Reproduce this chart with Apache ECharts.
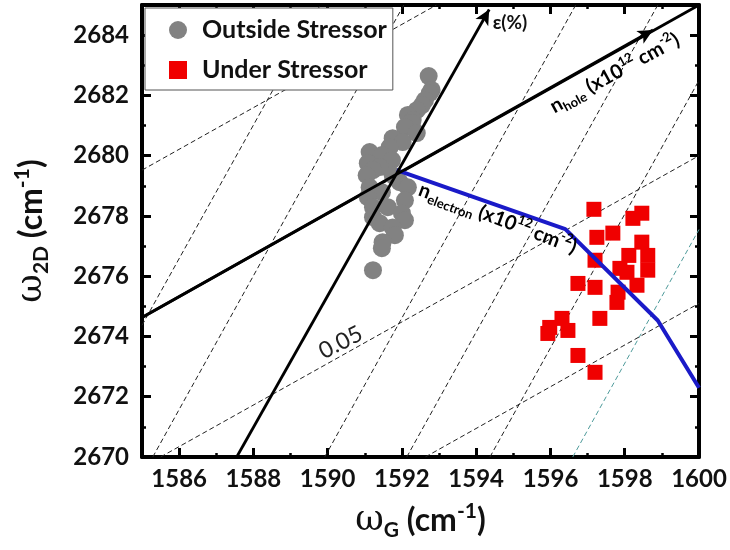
<!DOCTYPE html>
<html lang="en">
<head>
<meta charset="UTF-8">
<title>omega_2D vs omega_G</title>
<script src="https://cdn.jsdelivr.net/npm/echarts@6.0.0/dist/echarts.min.js"></script>
<style>
  body { margin: 0; background: #fff; }
  #main { width: 730px; height: 550px; }
</style>
</head>
<body>
<div id="main"></div>
<script>
// axis ranges and tick labels
var xRange = [1585, 1600];
var yRange = [2670, 2685];
var xTicks = [1586, 1588, 1590, 1592, 1594, 1596, 1598, 1600];
var yTicks = [2670, 2672, 2674, 2676, 2678, 2680, 2682, 2684];

// measured points (cm-1)
var outsideStressor = [
    [1592.72, 2682.64], [1592.80, 2682.18], [1592.75, 2682.08], [1592.62, 2681.84],
    [1592.54, 2681.68], [1592.40, 2681.51], [1592.16, 2681.35], [1592.29, 2681.18],
    [1592.27, 2681.08], [1592.08, 2680.95], [1592.40, 2680.75], [1591.75, 2680.58],
    [1592.02, 2680.45], [1591.67, 2680.28], [1591.13, 2680.12], [1591.46, 2680.02],
    [1591.73, 2679.85], [1591.08, 2679.75], [1591.40, 2679.62], [1591.22, 2679.52],
    [1591.05, 2679.35], [1591.75, 2679.35], [1591.94, 2679.12], [1592.16, 2678.95],
    [1591.13, 2678.95], [1591.46, 2678.79], [1591.08, 2678.62], [1592.08, 2678.52],
    [1591.22, 2678.29], [1591.62, 2678.29], [1592.00, 2678.09], [1591.22, 2677.96],
    [1592.08, 2677.86], [1591.40, 2677.76], [1591.75, 2677.62], [1591.81, 2677.36],
    [1591.48, 2677.13], [1591.46, 2676.93], [1591.22, 2676.20]
];
var underStressor = [
    [1597.17, 2678.22], [1598.46, 2678.09], [1598.22, 2677.92], [1597.25, 2677.29],
    [1597.68, 2677.43], [1598.46, 2677.13], [1598.11, 2676.69], [1598.62, 2676.69],
    [1598.62, 2676.20], [1597.20, 2676.53], [1597.87, 2676.26], [1598.06, 2676.13],
    [1596.74, 2675.76], [1597.20, 2675.63], [1598.33, 2675.70], [1597.82, 2675.47],
    [1597.79, 2675.13], [1597.33, 2674.60], [1596.31, 2674.60], [1595.98, 2674.30],
    [1595.93, 2674.10], [1596.47, 2674.20], [1596.74, 2673.37], [1597.20, 2672.81]
];

// reference lines
var electronLine = [[1591.86, 2679.52], [1596.40, 2677.56], [1598.89, 2674.53], [1600, 2672.3]];
var strainAxis = [[1587.55, 2670], [1594.35, 2684.85]];
var holeAxis = [[1585, 2674.63], [1600, 2685]];
var holeArrowTip = [1598.76, 2684.17];

// dashed iso lines
var isoDopingLines = [
    [[1585, 2674.37], [1589.8, 2685]],
    [[1585.29, 2670], [1592.05, 2685]],
    [[1589.92, 2670], [1596.68, 2685]],
    [[1592.13, 2670], [1598.89, 2685]],
    [[1594.37, 2670], [1600, 2682.5]]
];
var isoDopingTeal = [[1596.6, 2670], [1600, 2677.55]];
var isoStrainLines = [
    [[1585, 2679.52], [1592.93, 2685]],
    [[1585.5, 2670], [1600, 2680.0]],
    [[1592.63, 2670], [1600, 2675.1]]
];

// where the annotation texts sit (data coords)
var labelSpots = {
    strain: [1594.91, 2684.4],
    hole: [1597.73, 2682.74],
    electron: [1594.58, 2677.92],
    iso: [1590.35, 2673.8]
};

var FONT = 'Lato';

function nameRich(size) {
    return {
        w: {fontFamily: 'DejaVu Serif', fontSize: size + 3, color: '#111', lineHeight: 40},
        n: {fontFamily: FONT, fontWeight: 'bold', fontSize: size, color: '#111', lineHeight: 40},
        sub: {fontFamily: FONT, fontWeight: 'bold', fontSize: 21, color: '#111', lineHeight: 20, verticalAlign: 'bottom'},
        sup: {fontFamily: FONT, fontWeight: 'bold', fontSize: 21, color: '#111', lineHeight: 20, verticalAlign: 'top'}
    };
}

var tickLabel = {
    fontFamily: FONT, fontWeight: 'bold', fontSize: 24, color: '#111',
    formatter: function (v) { return String(v); }
};

// one axis with short ticks every unit, one with long ticks at labelled values
function makeAxis(dim, position, major) {
    var range = dim === 'x' ? xRange : yRange;
    var ticks = dim === 'x' ? xTicks : yTicks;
    return {
        type: 'value',
        position: position,
        min: range[0],
        max: range[1],
        interval: 1,
        axisLine: {show: !major, onZero: false, lineStyle: {color: '#000', width: 4}},
        axisTick: major
            ? {show: true, inside: true, length: 9, customValues: ticks, lineStyle: {color: '#000', width: 3}}
            : {show: true, inside: true, length: 4, lineStyle: {color: '#000', width: 2.5}},
        axisLabel: {show: false},
        splitLine: {show: false}
    };
}

var xAxes = [makeAxis('x', 'bottom', false), makeAxis('x', 'bottom', true),
             makeAxis('x', 'top', false), makeAxis('x', 'top', true)];
var yAxes = [makeAxis('y', 'left', false), makeAxis('y', 'left', true),
             makeAxis('y', 'right', false), makeAxis('y', 'right', true)];

xAxes[0].axisLabel = Object.assign({show: true, margin: 10, customValues: xTicks}, tickLabel);
xAxes[0].name = '{w|ω}{sub|G}{n| (cm}{sup|-1}{n|)}';
xAxes[0].nameLocation = 'middle';
xAxes[0].nameGap = 44;
xAxes[0].nameTextStyle = {rich: nameRich(32)};

yAxes[0].axisLabel = Object.assign({show: true, margin: 13, customValues: yTicks}, tickLabel);
yAxes[0].name = '{w|ω}{sub|2D}{n| (cm}{sup|-1}{n|)}';
yAxes[0].nameLocation = 'middle';
yAxes[0].nameGap = 90;
yAxes[0].nameTextStyle = {rich: nameRich(32)};

function dashed(seg, color) {
    return {
        type: 'line', data: seg, symbol: 'none', silent: true, z: 1,
        lineStyle: {type: [5, 3], width: 1, color: color}
    };
}

var series = [];
isoDopingLines.forEach(function (seg) { series.push(dashed(seg, '#222')); });
series.push(dashed(isoDopingTeal, '#4f9b9b'));
isoStrainLines.forEach(function (seg) { series.push(dashed(seg, '#222')); });

// n_hole line runs to the corner, arrows drawn with markLine
series.push({
    type: 'line', data: holeAxis, symbol: 'none', silent: true, z: 2,
    lineStyle: {color: '#000', width: 2.8},
    markLine: {
        silent: true,
        symbol: ['none', 'arrow'],
        symbolSize: [11, 15],
        label: {show: false},
        lineStyle: {color: '#000', width: 2.8, type: 'solid'},
        data: [
            [{coord: holeAxis[0]}, {coord: holeArrowTip}],
            [{coord: strainAxis[0]}, {coord: strainAxis[1]}]
        ]
    }
});

series.push({
    name: 'Outside Stressor', type: 'scatter', data: outsideStressor,
    symbol: 'circle', symbolSize: 18, z: 3,
    itemStyle: {color: '#828282', opacity: 1}
});
series.push({
    name: 'Under Stressor', type: 'scatter', data: underStressor,
    symbol: 'rect', symbolSize: 15, z: 3,
    itemStyle: {color: '#f00000', opacity: 1}
});
series.push({
    type: 'line', data: electronLine, symbol: 'none', silent: true, z: 4,
    lineStyle: {color: '#1a1ac8', width: 4}
});

var myChart = echarts.init(document.getElementById('main'));
myChart.setOption({
    animation: false,
    backgroundColor: '#fff',
    grid: {left: 142, right: 31, top: 5, bottom: 93},
    legend: {
        left: 145, top: 8, orient: 'vertical',
        backgroundColor: '#fff', borderColor: '#555', borderWidth: 1,
        padding: [8, 6, 6, 24], itemGap: 12, itemWidth: 18, itemHeight: 18,
        textStyle: {fontFamily: FONT, fontWeight: 'bold', fontSize: 25, color: '#111', lineHeight: 28, padding: [0, 0, 0, 10]},
        data: [{name: 'Outside Stressor', icon: 'circle'}, {name: 'Under Stressor', icon: 'rect'}]
    },
    xAxis: xAxes,
    yAxis: yAxes,
    series: series
});

// annotation texts
function at(pt) { return myChart.convertToPixel({gridIndex: 0}, pt); }
function annoRich(size, color) {
    return {
        a: {fontFamily: FONT, fontWeight: 'bold', fontSize: size, color: color, lineHeight: 26},
        b: {fontFamily: FONT, fontWeight: 'bold', fontSize: 13, color: color, lineHeight: 12, verticalAlign: 'bottom'},
        c: {fontFamily: FONT, fontWeight: 'bold', fontSize: 13, color: color, lineHeight: 12, verticalAlign: 'top'}
    };
}
var pStrain = at(labelSpots.strain), pHole = at(labelSpots.hole);
var pElec = at(labelSpots.electron), pIso = at(labelSpots.iso);
myChart.setOption({
    graphic: [
        {type: 'text', x: pStrain[0], y: pStrain[1], z: 100,
         style: {text: 'ε(%)', fontFamily: FONT, fontWeight: 'bold', fontSize: 19, fill: '#111', align: 'center', verticalAlign: 'middle'}},
        {type: 'text', x: pHole[0], y: pHole[1], rotation: 0.5, z: 100,
         style: {text: '{a|n}{b|hole}{a| (x10}{c|12}{a| cm}{c|-2}{a|)}', rich: annoRich(20, '#111'), align: 'center', verticalAlign: 'middle'}},
        {type: 'text', x: pElec[0], y: pElec[1], rotation: -0.36, z: 100,
         style: {text: '{a|n}{b|electron}{a| (x10}{c|12}{a| cm}{c|-2}{a|)}', rich: annoRich(20, '#1a1ac8'), align: 'center', verticalAlign: 'middle'}},
        {type: 'text', x: pIso[0], y: pIso[1], rotation: 0.47, z: 100,
         style: {text: '0.05', fontFamily: FONT, fontSize: 23, fill: '#222', align: 'center', verticalAlign: 'middle'}}
    ]
});
</script>
</body>
</html>
